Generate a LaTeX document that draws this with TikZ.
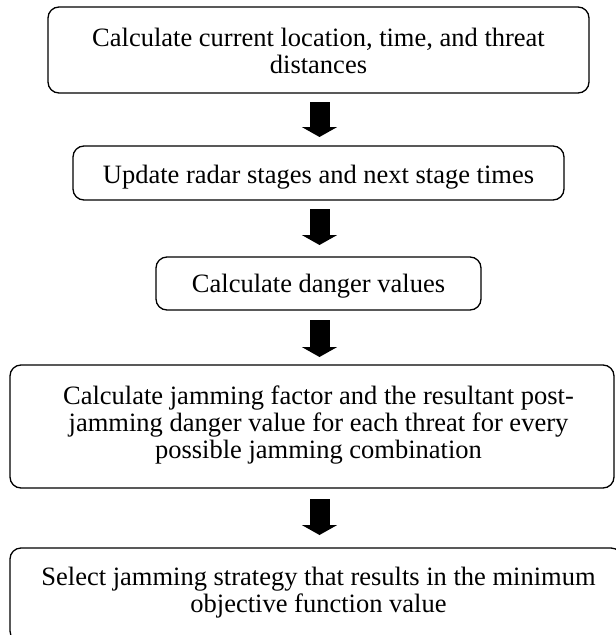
\documentclass[tikz,border=0pt]{standalone}
\usepackage{fontspec}
\setmainfont{Liberation Serif}
\usetikzlibrary{arrows.meta,calc}
\begin{document}
\begin{tikzpicture}[x=1pt,y=-1pt,
  stepbox/.style={draw,line width=1.3pt,rounded corners=11pt,inner sep=0pt,outer sep=0pt},
  steptext/.style={inner sep=0pt,align=center,font=\fontsize{26.5}{27}\selectfont,anchor=base},
  blockarrow/.style={line width=20pt,-{Triangle[length=10pt,width=35pt]}}]
\clip (0,0) rectangle (616,635);
\coordinate (ax) at (319.5,0);

% process boxes
\node[stepbox,minimum width=541pt,minimum height=86pt] (b1) at (318.5,50) {};
\node[stepbox,minimum width=491pt,minimum height=54pt] (b2) at (318.5,173) {};
\node[stepbox,minimum width=325pt,minimum height=53pt] (b3) at (318.5,283.5) {};
\node[stepbox,minimum width=604pt,minimum height=123pt] (b4) at (312,426.5) {};
\node[stepbox,minimum width=612pt,minimum height=94pt] (b5) at (316,595) {};

% box texts (base anchor sits on the last line)
\node[steptext] (t1) at (318.5,73) {Calculate current location, time, and threat\\distances};
\node[steptext] (t2) at (318.5,183) {Update radar stages and next stage times};
\node[steptext] (t3) at (318.5,292) {Calculate danger values};
\node[steptext] (t4) at (318.5,458.5) {Calculate jamming factor and the resultant post-\\jamming danger value for each threat for every\\possible jamming combination};
\node[steptext] (t5) at (318.5,612) {Select jamming strategy that results in the minimum\\objective function value};

% block arrows between the steps
\draw[blockarrow] ($(b1.south -| ax)+(0,9)$) -- ($(b2.north -| ax)+(0,-9)$);
\draw[blockarrow] ($(b2.south -| ax)+(0,9)$) -- ($(b3.north -| ax)+(0,-12)$);
\draw[blockarrow] ($(b3.south -| ax)+(0,10)$) -- ($(b4.north -| ax)+(0,-8)$);
\draw[blockarrow] ($(b4.south -| ax)+(0,11)$) -- ($(b5.north -| ax)+(0,-13)$);
\end{tikzpicture}
\end{document}
